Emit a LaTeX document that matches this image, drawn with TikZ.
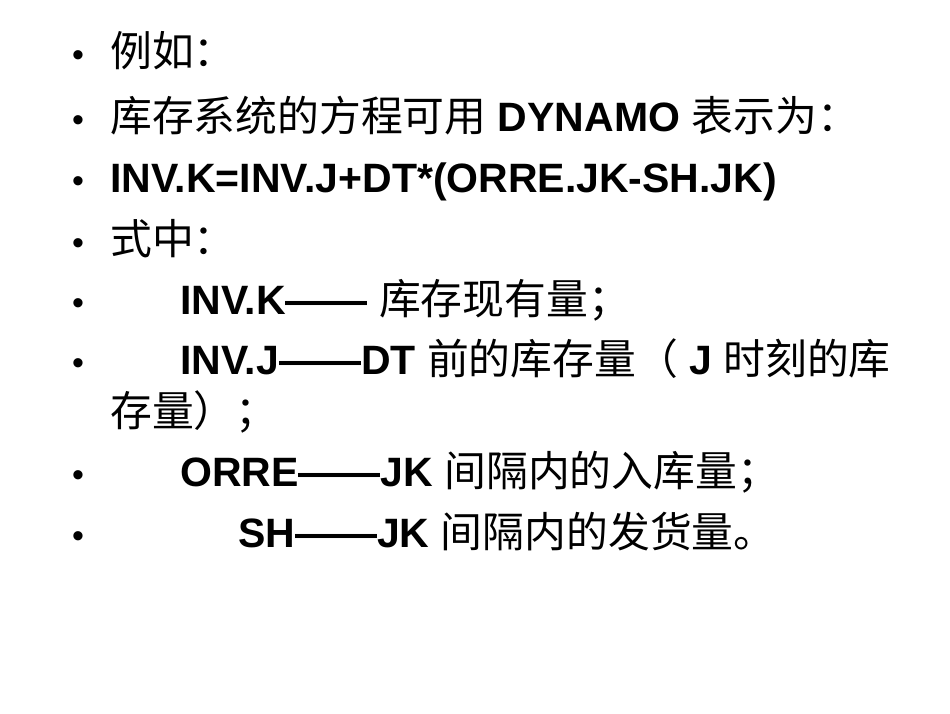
\documentclass[tikz,border=0pt]{standalone}
\usepackage{fontspec}
\setmainfont{Liberation Sans}
\newfontfamily\cjk{Noto Sans CJK SC}[Scale=1.02]
\newcommand{\zh}[1]{{\cjk\mdseries #1}}
\begin{document}
\begin{tikzpicture}[x=1pt,y=-1pt,
  txt/.style={anchor=base west,inner sep=0pt,font=\fontsize{41}{46}\selectfont\bfseries},
  bul/.style={anchor=base west,inner sep=0pt,font=\fontsize{34}{36}\selectfont}]
\useasboundingbox[fill=white] (0,0) rectangle (950,713);
\foreach \y/\n in {66/b1,131/b2,192/b3,254/b4,314/b5,374/b6,486/b7,547/b8}
  \node[bul] (\n) at (72,\y) {•};
\node[txt] (l1) at (110,66) {\zh{例如：}};
\node[txt] (l2) at (110,131) {\zh{库存系统的方程可用} DYNAMO \zh{表示为：}};
\node[txt] (l3) at (110,192) {INV.K=INV.J+DT*(ORRE.JK-SH.JK)};
\node[txt] (l4) at (110,254) {\zh{式中：}};
\node[txt] (l5) at (180,314) {INV.K—— \zh{库存现有量；}};
\node[txt] (l6) at (180,374) {INV.J——DT \zh{前的库存量（} J \zh{时刻的库}};
\node[txt] (l6b) at (110,426) {\zh{存量）；}};
\node[txt] (l7) at (180,486) {ORRE——JK \zh{间隔内的入库量；}};
\node[txt] (l8) at (238,547) {SH——JK \zh{间隔内的发货量。}};
\end{tikzpicture}
\end{document}
